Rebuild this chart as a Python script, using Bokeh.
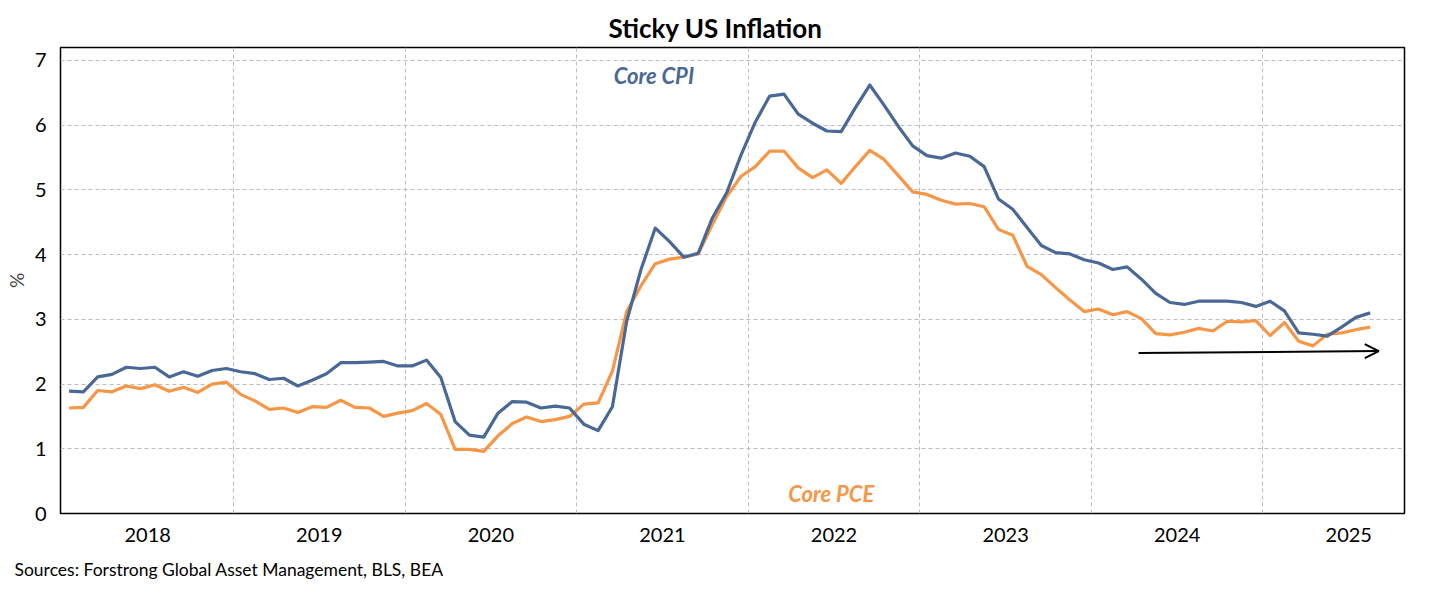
import numpy as np
from bokeh.plotting import figure
from bokeh.models import (FixedTicker, CustomJSTickFormatter, Range1d, Title, Label,
                          Arrow, OpenHead, ColumnDataSource)
from bokeh.embed import file_html
from bokeh.resources import INLINE

# ---------------- data (monthly, Jan 2018 .. Aug 2025) ----------------
months = [f"{y}-{m:02d}" for y in range(2018, 2026) for m in range(1, 13)][:92]

core_cpi = [1.89, 1.88, 2.11, 2.15, 2.26, 2.24, 2.26, 2.11, 2.19, 2.12, 2.21, 2.24,
            2.19, 2.16, 2.07, 2.09, 1.97, 2.06, 2.16, 2.33, 2.33, 2.34, 2.35, 2.28,
            2.28, 2.37, 2.10, 1.42, 1.21, 1.18, 1.55, 1.73, 1.72, 1.63, 1.66, 1.63,
            1.38, 1.28, 1.65, 2.97, 3.77, 4.41, 4.20, 3.96, 4.02, 4.57, 4.96, 5.54,
            6.05, 6.45, 6.48, 6.17, 6.03, 5.91, 5.90, 6.27, 6.62, 6.31, 5.98, 5.68,
            5.53, 5.49, 5.57, 5.52, 5.36, 4.86, 4.70, 4.42, 4.14, 4.03, 4.01, 3.92,
            3.87, 3.77, 3.81, 3.62, 3.40, 3.26, 3.23, 3.28, 3.28, 3.28, 3.26, 3.20,
            3.28, 3.13, 2.79, 2.77, 2.74, 2.88, 3.03, 3.10]

core_pce = [1.63, 1.64, 1.90, 1.88, 1.97, 1.93, 1.99, 1.89, 1.95, 1.87, 2.00, 2.03,
            1.84, 1.74, 1.61, 1.63, 1.56, 1.65, 1.64, 1.75, 1.64, 1.63, 1.50, 1.55,
            1.59, 1.70, 1.53, 0.99, 0.99, 0.96, 1.20, 1.39, 1.49, 1.42, 1.45, 1.50,
            1.69, 1.71, 2.20, 3.12, 3.52, 3.86, 3.93, 3.96, 4.01, 4.47, 4.90, 5.21,
            5.36, 5.60, 5.60, 5.34, 5.19, 5.31, 5.10, 5.36, 5.61, 5.47, 5.22, 4.97,
            4.93, 4.84, 4.78, 4.79, 4.74, 4.39, 4.30, 3.82, 3.69, 3.49, 3.30, 3.12,
            3.16, 3.07, 3.12, 3.01, 2.78, 2.76, 2.80, 2.86, 2.82, 2.97, 2.96, 2.98,
            2.75, 2.95, 2.66, 2.59, 2.77, 2.79, 2.84, 2.88]

year_labels = ["2018", "2019", "2020", "2021", "2022", "2023", "2024", "2025"]
y_ticks = [0, 1, 2, 3, 4, 5, 6, 7]

# annotation anchors (month index, %)
cpi_label_pos = (40.9, 6.77)
pce_label_pos = (53.3, 0.31)
arrow_x = [74.8, 91.6]
arrow_y = [2.48, 2.51]

CPI_COLOR = "#4A6896"
PCE_COLOR = "#F79646"
FONT = "Lato"

x = np.arange(len(months))
src = ColumnDataSource(dict(x=x, cpi=core_cpi, pce=core_pce))

p = figure(width=1414, height=592, output_backend="svg", toolbar_location=None,
           x_range=Range1d(-0.6, 93.4), y_range=Range1d(0, 7.2),
           min_border_left=60, min_border_right=10, min_border_top=47, min_border_bottom=73)

p.background_fill_color = "white"
p.border_fill_color = "white"
p.outline_line_color = "black"
p.outline_line_width = 1.5
p.outline_line_alpha = 1.0

# title
p.title = Title(text="Sticky US Inflation", align="left", text_font=FONT,
                text_font_size="26px", text_font_style="bold", text_color="black",
                offset=548, standoff=8)
p.add_layout(Title(text="Sources: Forstrong Global Asset Management, BLS, BEA", align="left",
                   text_font=FONT, text_font_size="17.5px", text_font_style="normal",
                   text_color="black", offset=-46, standoff=25), "below")

# axes
p.xaxis.ticker = FixedTicker(ticks=[5.5 + 12 * k for k in range(len(year_labels))])
p.xaxis.formatter = CustomJSTickFormatter(args=dict(labels=year_labels),
                                          code="return labels[Math.round((tick - 5.5) / 12)];")
p.yaxis.ticker = FixedTicker(ticks=y_ticks)
p.yaxis.axis_label = "%"
for ax in (p.xaxis[0], p.yaxis[0]):
    ax.major_label_text_font = FONT
    ax.major_label_text_font_size = "20px"
    ax.major_label_text_color = "black"
    ax.major_tick_line_color = None
    ax.minor_tick_line_color = None
    ax.axis_line_color = None
    ax.major_label_standoff = 8
p.yaxis.axis_label_text_font = FONT
p.yaxis.axis_label_text_font_size = "19px"
p.yaxis.axis_label_text_font_style = "normal"
p.yaxis.axis_label_standoff = 4

# grids
p.xgrid.ticker = FixedTicker(ticks=[11.5 + 12 * k for k in range(len(year_labels) - 1)])
p.ygrid.ticker = FixedTicker(ticks=y_ticks[1:])
for g in (p.xgrid[0], p.ygrid[0]):
    g.grid_line_color = "#BDBDBD"
    g.grid_line_dash = "4 3"
    g.grid_line_width = 1

# lines
p.line("x", "pce", source=src, line_color=PCE_COLOR, line_width=3.2, line_join="round")
p.line("x", "cpi", source=src, line_color=CPI_COLOR, line_width=3.2, line_join="round")

# labels
p.add_layout(Label(x=cpi_label_pos[0], y=cpi_label_pos[1], text="Core CPI",
                   text_font=FONT, text_font_size="22px", text_font_style="bold italic",
                   text_color=CPI_COLOR, text_align="center", text_baseline="middle"))
p.add_layout(Label(x=pce_label_pos[0], y=pce_label_pos[1], text="Core PCE",
                   text_font=FONT, text_font_size="22px", text_font_style="bold italic",
                   text_color=PCE_COLOR, text_align="center", text_baseline="middle"))

# arrow
p.add_layout(Arrow(end=OpenHead(size=14, line_width=2, line_color="black"),
                   x_start=arrow_x[0], y_start=arrow_y[0], x_end=arrow_x[1], y_end=arrow_y[1],
                   line_width=2, line_color="black"))

open("out.html", "w").write(file_html(p, INLINE))
